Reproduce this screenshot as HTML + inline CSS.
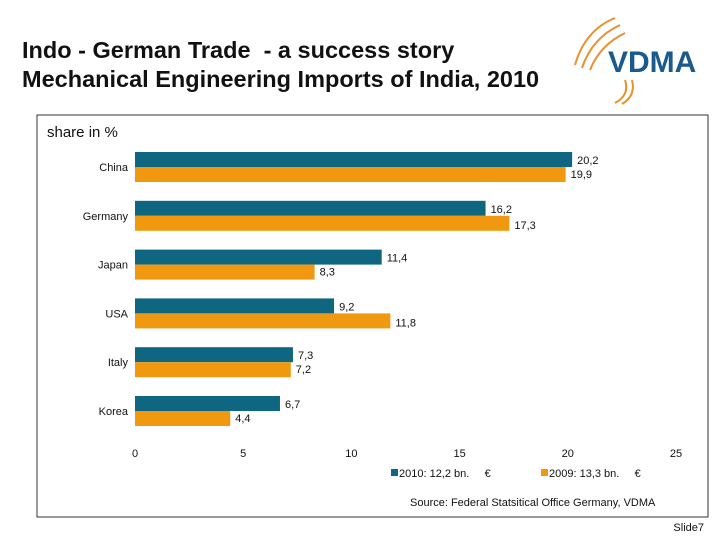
<!DOCTYPE html>
<html><head><meta charset="utf-8"><style>
body{margin:0;width:720px;height:540px;background:#fff;font-family:"Liberation Sans",sans-serif;overflow:hidden;position:relative}
.t{position:absolute;left:22px;top:36px;font-size:23.5px;line-height:29px;color:#111;font-weight:bold;white-space:nowrap}
</style></head><body>
<div class="t">Indo - German Trade&nbsp; - a success story<br>Mechanical Engineering Imports of India, 2010</div>
<svg width="720" height="540" style="position:absolute;left:0;top:0">
<g>
<path d="M575 65 Q585 30 615 18" stroke="#e8902a" stroke-width="2" fill="none"/>
<path d="M582 68 Q592 38 620 25" stroke="#e8902a" stroke-width="2" fill="none"/>
<path d="M590 70 Q600 45 625 33" stroke="#e8902a" stroke-width="2" fill="none"/>
<path d="M625 80 Q630 95 615 103" stroke="#e8902a" stroke-width="2" fill="none"/>
<path d="M632 80 Q636 96 622 104" stroke="#e8902a" stroke-width="2" fill="none"/>
<text x="608" y="72" font-size="30" font-weight="bold" fill="#1a5a8c" font-family="Liberation Sans">VDMA</text>
</g>
<rect x="37" y="115" width="671" height="402" fill="none" stroke="#333" stroke-width="1"/>
<text x="47" y="137" font-size="15" fill="#111">share in %</text>
<g id="plot"></g>
<g>
<rect x="391" y="469" width="7" height="7" fill="#0f6681"/>
<text x="399" y="477" font-size="11" fill="#111">2010: 12,2 bn.&nbsp;&nbsp;&nbsp;&nbsp; €</text>
<rect x="541" y="469" width="7" height="7" fill="#f0980f"/>
<text x="549" y="477" font-size="11" fill="#111">2009: 13,3 bn.&nbsp;&nbsp;&nbsp;&nbsp; €</text>
</g>
<text x="410" y="506" font-size="11" fill="#111">Source: Federal Statsitical Office Germany, VDMA</text>
<text x="704" y="531" font-size="11" fill="#111" text-anchor="end">Slide7</text>
</svg>
<script>
const categories=["China","Germany","Japan","USA","Italy","Korea"];
const values2010=[20.2,16.2,11.4,9.2,7.3,6.7];
const values2009=[19.9,17.3,8.3,11.8,7.2,4.4];
const ticks=[0,5,10,15,20,25];
const x=v=>135+v*21.64;
const yc=i=>167+i*48.8;
const g=document.getElementById('plot');
const NS="http://www.w3.org/2000/svg";
function mk(t,a){const e=document.createElementNS(NS,t);for(const k in a)e.setAttribute(k,a[k]);g.appendChild(e);return e;}
const fmt=v=>String(v).replace('.',',');
ticks.forEach(t=>{const e=mk('text',{x:x(t),y:457,'font-size':11,'text-anchor':'middle',fill:'#111'});e.textContent=t;

});
categories.forEach((c,i)=>{
const l=mk('text',{x:128,y:yc(i)+4,'font-size':11,'text-anchor':'end',fill:'#111'});l.textContent=c;


const b1=mk('rect',{x:135,y:yc(i)-15,width:x(values2010[i])-135,height:15,fill:'#0f6681'});


const b2=mk('rect',{x:135,y:yc(i),width:x(values2009[i])-135,height:15,fill:'#f0980f'});


const t1=mk('text',{x:x(values2010[i])+5,y:yc(i)-3,'font-size':11,fill:'#111'});t1.textContent=fmt(values2010[i]);


const t2=mk('text',{x:x(values2009[i])+5,y:yc(i)+11+(values2009[i]>values2010[i]?2:0),'font-size':11,fill:'#111'});t2.textContent=fmt(values2009[i]);


});
</script>
</body></html>
